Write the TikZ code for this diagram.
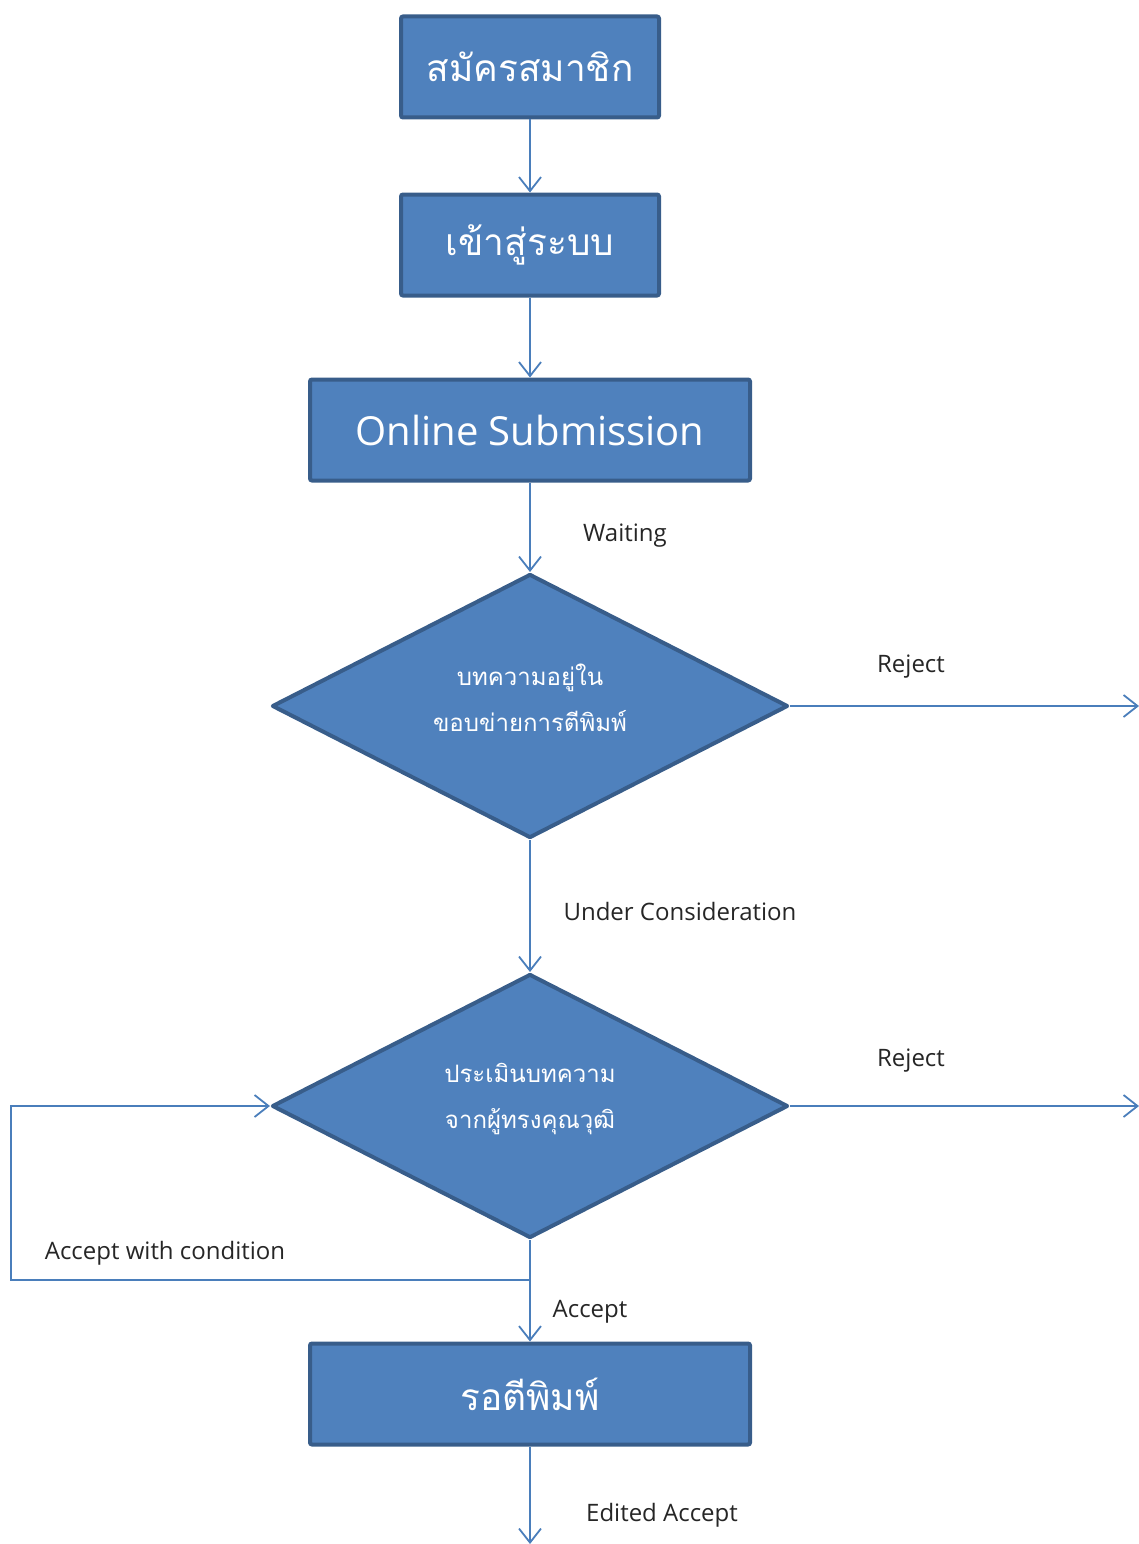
\documentclass[tikz,border=0pt]{standalone}
\usepackage{fontspec}
\setmainfont{Open Sans}
\newfontfamily\thaifont[Script=Thai]{Loma}
\usetikzlibrary{shapes, arrows.meta, positioning}
\definecolor{boxblue}{HTML}{4F81BD}
\definecolor{boxedge}{HTML}{385D8A}
\definecolor{linkblue}{HTML}{4A7EBB}

\tikzset{
  stepbox/.style={draw=boxedge, fill=boxblue, line width=4pt, rounded corners=2pt, text=white, minimum height=101pt, inner sep=0pt},
  choice/.style={diamond, draw=boxedge, fill=boxblue, line width=4pt, line join=round, minimum width=516pt, minimum height=264pt, inner sep=0pt},
  choicetext/.style={text=white, align=center, font=\thaifont\fontsize{24}{46}\selectfont},
  conn/.style={draw=linkblue, line width=1.8pt, -{Straight Barb[length=14pt, width=22pt]}},
  tag/.style={font=\fontsize{24}{28}\selectfont, text=black!85}
}

\begin{document}
\begin{tikzpicture}[x=1pt, y=-1pt]
    \useasboundingbox (0,0) rectangle (1139,1544);
    % boxes and decisions
    \node[stepbox, minimum width=258pt, font=\thaifont\fontsize{37}{44}\selectfont] (reg) at (530,67) {สมัครสมาชิก};
    \node[stepbox, minimum width=258pt, font=\thaifont\fontsize{37}{44}\selectfont] (login) at (530,245) {เข้าสู่ระบบ};
    \node[stepbox, minimum width=440pt, font=\fontsize{40}{48}\selectfont] (submit) at (530,430) {Online Submission};
    \node[choice] (scope) at (530,706) {};
    \node[choicetext] (scopetxt) at (530,698) {บทความอยู่ใน\\ขอบข่ายการตีพิมพ์};
    \node[choice] (review) at (530,1106) {};
    \node[choicetext] (reviewtxt) at (530,1099) {ประเมินบทความ\\จากผู้ทรงคุณวุฒิ};
    \node[stepbox, minimum width=440pt, font=\thaifont\fontsize{37}{44}\selectfont] (wait) at (530,1394) {รอตีพิมพ์};
    % free ends
    \coordinate (rj1) at (1139,706);
    \coordinate (rj2) at (1139,1106);
    \coordinate (jn) at (530,1280);
    \coordinate (lp) at (11,1280);
    \coordinate (out) at (530,1544);
    % connectors
    \draw[conn] (reg) -- (login);
    \draw[conn] (login) -- (submit);
    \draw[conn] (submit) -- (scope.north);
    \draw[conn] (scope.east) -- (rj1);
    \draw[conn] (scope.south) -- (review.north);
    \draw[conn] (review.east) -- (rj2);
    \draw[conn] (review.south) -- (wait.north);
    \draw[conn] (jn) -- (lp) |- (review.west);
    \draw[conn] (wait.south) -- (out);
    % labels
    \node[tag] (lwait) at (625,536) {Waiting};
    \node[tag] (lrej1) at (911,667) {Reject};
    \node[tag] (lcons) at (680,911) {Under Consideration};
    \node[tag] (lrej2) at (911,1061) {Reject};
    \node[tag] (lcond) at (165,1253) {Accept with condition};
    \node[tag] (lacc) at (590,1312) {Accept};
    \node[tag] (ledit) at (662,1515) {Edited Accept};
\end{tikzpicture}
\end{document}
